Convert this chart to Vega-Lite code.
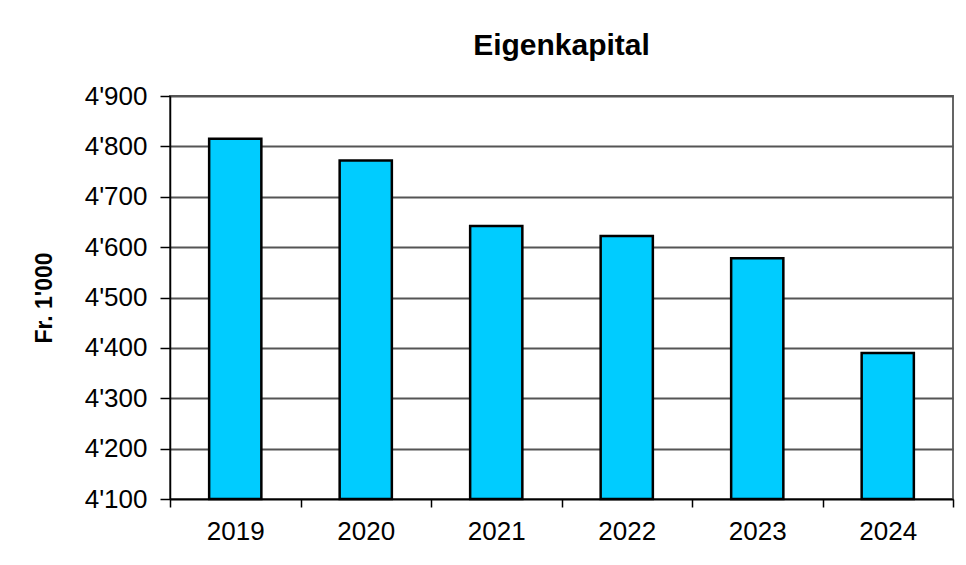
{
  "$schema": "https://vega.github.io/schema/vega-lite/v6.json",
  "width": 783,
  "height": 403,
  "autosize": "none",
  "padding": {"left": 170, "top": 96, "right": 13, "bottom": 66},
  "background": "white",
  "title": {
    "text": "Eigenkapital",
    "font": "Liberation Sans",
    "fontSize": 30,
    "fontWeight": "bold",
    "color": "black",
    "anchor": "middle",
    "offset": 22
  },
  "data": {
    "values": [
      {"year": "2019", "value": 4815},
      {"year": "2020", "value": 4772},
      {"year": "2021", "value": 4642},
      {"year": "2022", "value": 4622},
      {"year": "2023", "value": 4578},
      {"year": "2024", "value": 4390}
    ]
  },
  "mark": {
    "type": "bar",
    "width": {"band": 0.4},
    "fill": "#00CCFF",
    "stroke": "black",
    "strokeWidth": 2.5
  },
  "encoding": {
    "x": {
      "field": "year",
      "type": "ordinal",
      "scale": {"paddingInner": 0, "paddingOuter": 0},
      "axis": {
        "title": null,
        "labelAngle": 0,
        "tickBand": "extent",
        "tickSize": 8,
        "tickColor": "black",
        "tickWidth": 1.5,
        "domainColor": "black",
        "domainWidth": 1.5,
        "labelFont": "Liberation Sans",
        "labelFontSize": 26,
        "labelColor": "black",
        "labelPadding": 11,
        "grid": false
      }
    },
    "y": {
      "field": "value",
      "type": "quantitative",
      "scale": {"domain": [4100, 4900], "zero": false, "nice": false},
      "axis": {
        "title": "Fr. 1'000",
        "titleFont": "Liberation Sans",
        "titleFontSize": 23,
        "titleFontWeight": "bold",
        "titleColor": "black",
        "titlePadding": 28,
        "values": [4100, 4200, 4300, 4400, 4500, 4600, 4700, 4800, 4900],
        "format": ",d",
        "labelExpr": "replace(datum.label, ',', \"'\")",
        "labelFont": "Liberation Sans",
        "labelFontSize": 26,
        "labelColor": "black",
        "labelPadding": 13,
        "tickSize": 10,
        "tickColor": "black",
        "tickWidth": 1.5,
        "domainColor": "black",
        "domainWidth": 1.5,
        "grid": true,
        "gridColor": "#555555",
        "gridWidth": 1.8,
        "gridOpacity": 1
      }
    },
    "y2": {"datum": 4100}
  },
  "config": {
    "view": {"stroke": "#555555", "strokeWidth": 1.8}
  }
}
